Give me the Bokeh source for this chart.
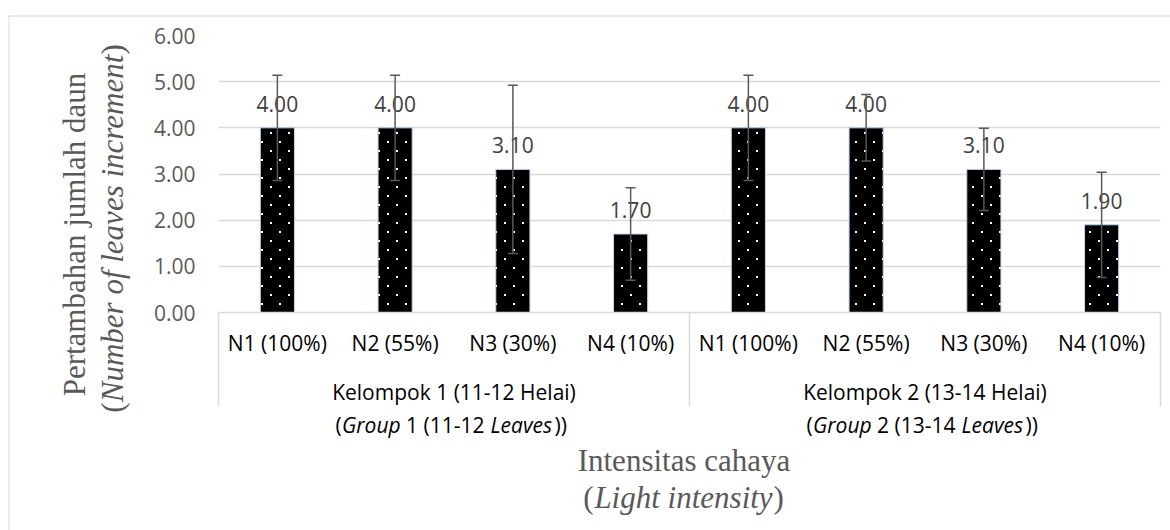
import math
import base64
from bokeh.plotting import figure
from bokeh.layouts import column, row
from bokeh.models import (Range1d, FixedTicker, NumeralTickFormatter, ColumnDataSource,
                          Whisker, TeeHead, LabelSet, LinearAxis, ImageURLTexture)
from bokeh.core.properties import value
from bokeh.embed import file_html
from bokeh.resources import INLINE

# ---------------- data ----------------
categories = ["N1 (100%)", "N2 (55%)", "N3 (30%)", "N4 (10%)"]
group_names = ["Kelompok 1 (11-12 Helai)", "Kelompok 2 (13-14 Helai)"]
group_numbers = ["1 (11-12", "2 (13-14"]
g1_values = [4.00, 4.00, 3.10, 1.70]
g2_values = [4.00, 4.00, 3.10, 1.90]
g1_errors = [1.14, 1.14, 1.82, 1.00]
g2_errors = [1.14, 0.72, 0.89, 1.14]
y_ticks = [0, 1, 2, 3, 4, 5, 6]
y_title = "Pertambahan jumlah daun"
y_title_en = "Number of leaves increment"
x_title = "Intensitas cahaya"
x_title_en = "Light intensity"

# ---------------- layout (page pixels) ----------------
W, H = 1170, 530
TOP_H = 20            # strip holding the chart border
LEFT_W = 140          # column holding the y title
SPLIT = 408           # page y where the plot figure ends
FL, FR, FT, FB = 218, 1160, 35, 313   # plot frame
N = len(categories) * len(group_names)
YMAX = max(y_ticks)

SANS = "Open Sans"
SERIF = "Liberation Serif"
FS = "21px"
TFS = "31px"
GRID = "#D9D9D9"
TC = "#595959"

values = g1_values + g2_values
errors = g1_errors + g2_errors
xs = list(range(N))
tick_labels = categories * len(group_names)
boundaries = [-0.5 + k * len(categories) for k in range(len(group_names) + 1)]
group_centers = [(boundaries[i] + boundaries[i + 1]) / 2 for i in range(len(group_names))]

src = ColumnDataSource(dict(
    x=xs,
    top=values,
    upper=[v + e for v, e in zip(values, errors)],
    lower=[v - e for v, e in zip(values, errors)],
    label=[f"{v:.2f}" for v in values],
))

# ---------------- main plot ----------------
MW, MH = W - LEFT_W, SPLIT - TOP_H
p = figure(width=MW, height=MH, x_range=Range1d(-0.5, N - 0.5), y_range=Range1d(0, YMAX),
           output_backend="svg", toolbar_location=None,
           min_border_left=FL - LEFT_W, min_border_right=W - FR,
           min_border_top=FT - TOP_H, min_border_bottom=SPLIT - FB,
           background_fill_color="white", border_fill_color="white")
p.outline_line_color = None
p.xgrid.visible = False
p.ygrid.ticker = FixedTicker(ticks=y_ticks)
p.ygrid.grid_line_color = GRID
p.ygrid.grid_line_width = 1.5

ya = p.yaxis[0]
ya.ticker = FixedTicker(ticks=y_ticks)
ya.formatter = NumeralTickFormatter(format="0.00")
ya.axis_line_color = None
ya.major_tick_line_color = None
ya.minor_tick_line_color = None
ya.major_tick_out = 0
ya.minor_tick_out = 0
ya.major_label_standoff = 23
ya.major_label_text_font = SANS
ya.major_label_text_font_size = FS
ya.major_label_text_color = TC

SEP_LEN = 94   # category separators drawn as long minor ticks
xa = p.xaxis[0]
xa.ticker = FixedTicker(ticks=xs, minor_ticks=boundaries)
xa.major_label_overrides = {x: lab for x, lab in zip(xs, tick_labels)}
xa.axis_line_color = GRID
xa.axis_line_width = 1.5
xa.major_tick_line_color = None
xa.major_tick_out = 0
xa.major_tick_in = 0
xa.minor_tick_line_color = GRID
xa.minor_tick_line_width = 1.5
xa.minor_tick_in = 0
xa.minor_tick_out = SEP_LEN
xa.major_label_standoff = 16 - SEP_LEN
xa.major_label_text_font = SANS
xa.major_label_text_font_size = FS
xa.major_label_text_color = "#000000"

# second category level (group names) as its own axis
ga = LinearAxis(ticker=FixedTicker(ticks=group_centers),
                major_label_overrides={c: g for c, g in zip(group_centers, group_names)},
                axis_line_color=None, major_tick_line_color=None, minor_tick_line_color=None,
                major_tick_out=0, major_tick_in=0, minor_tick_out=0, minor_tick_in=0,
                major_label_standoff=18, major_label_text_font=SANS,
                major_label_text_font_size=FS, major_label_text_color="#000000")
p.add_layout(ga, "below")

tile = ("<svg xmlns='http://www.w3.org/2000/svg' width='18' height='18'>"
        "<rect x='4' y='4' width='2' height='2' fill='white'/>"
        "<rect x='13' y='13' width='2' height='2' fill='white'/></svg>")
dots = ImageURLTexture(url="data:image/svg+xml;base64," + base64.b64encode(tile.encode()).decode(),
                       repetition="repeat")

p.vbar(x="x", top="top", bottom=0, width=0.29, source=src,
       fill_color="black", line_color="#BDD7EE", line_width=1,
       hatch_pattern="@", hatch_extra={"@": dots}, hatch_color="white")

p.add_layout(LabelSet(x="x", y="top", text="label", source=src, y_offset=16,
                      text_align="center", text_baseline="alphabetic",
                      text_font=value(SANS), text_font_size=value(FS),
                      text_color=value("#404040")))

p.add_layout(Whisker(source=src, base="x", upper="upper", lower="lower",
                     line_color="#595959", line_width=1.5, level="overlay",
                     upper_head=TeeHead(size=10, line_color="#595959", line_width=1.5),
                     lower_head=TeeHead(size=10, line_color="#595959", line_width=1.5)))

# ---------------- helper canvases for text outside the plot ----------------
def canvas(w, h, **kw):
    f = figure(width=w, height=h, y_range=Range1d(0, h),
               x_axis_location=None, y_axis_location=None,
               output_backend="svg", toolbar_location=None,
               background_fill_color="white", border_fill_color="white", **kw)
    f.outline_line_color = None
    f.grid.visible = False
    return f

# top strip and left column: frame covers the whole canvas, units are pixels
top = canvas(W, TOP_H, x_range=Range1d(0, W), min_border=0)
left = canvas(LEFT_W, H - TOP_H, x_range=Range1d(0, LEFT_W), min_border=0)
# bottom strip: shares the plot's x scale (its frame lines up with the plot frame)
BH = H - SPLIT
bottom = canvas(MW, BH, x_range=p.x_range, min_border=0,
                min_border_left=FL - LEFT_W, min_border_right=W - FR)

def seg(f, y0, x0a, y0a, x1a, y1a, width=1.0):
    hh = f.height
    f.segment(x0=[x0a], y0=[hh - (y0a - y0)], x1=[x1a], y1=[hh - (y1a - y0)],
              line_color=GRID, line_width=width)

def txt(f, y0, x, py, text, font, size, color, style="normal", align="center",
        angle=0.0, dx=0.0):
    hh = f.height
    s = ColumnDataSource(dict(x=[x], y=[hh - (py - y0)], t=[text]))
    f.add_layout(LabelSet(x="x", y="y", text="t", source=s, angle=angle, x_offset=dx,
                          text_font=value(font), text_font_size=value(size),
                          text_font_style=value(style), text_align=value(align),
                          text_baseline=value("alphabetic"), text_color=value(color)))

# chart border (top and left edges)
seg(top, 0, 8, 15.5, W + 10, 15.5)
seg(top, 0, 8.5, 15, 8.5, TOP_H + 5)
seg(left, TOP_H, 8.5, TOP_H - 5, 8.5, H + 5)

# y title (rotated), pixel coordinates
A = math.pi / 2
txt(left, TOP_H, 84, 234, y_title, SERIF, TFS, TC, angle=A)
txt(left, TOP_H, 122, 228, y_title_en, SERIF, TFS, TC, style="italic", angle=A)
txt(left, TOP_H, 122, 402, "(", SERIF, TFS, TC, align="right", angle=A)
txt(left, TOP_H, 122, 54, ")", SERIF, TFS, TC, align="left", angle=A)

# second line of the group labels (mixed styles), x in data units + pixel offsets
seg_offsets = [-118.5, -112, -48, 36.5, 100.5]
for gi, gc in enumerate(group_centers):
    segs = [("(", "normal"), ("Group", "italic"), (group_numbers[gi], "normal"),
            ("Leaves", "italic"), ("))", "normal")]
    for (t, st), off in zip(segs, seg_offsets):
        txt(bottom, SPLIT, gc, 432, t, SANS, FS, "#000000", style=st, align="left", dx=off)

# x title, centred on the plot frame
mid = (boundaries[0] + boundaries[-1]) / 2
txt(bottom, SPLIT, mid, 470, x_title, SERIF, TFS, TC, dx=-5.5)
txt(bottom, SPLIT, mid, 507, x_title_en, SERIF, TFS, TC, style="italic", dx=-6)
txt(bottom, SPLIT, mid, 507, "(", SERIF, TFS, TC, align="right", dx=-96)
txt(bottom, SPLIT, mid, 507, ")", SERIF, TFS, TC, align="left", dx=84)

layout = column(top, row(left, column(p, bottom, spacing=0), spacing=0), spacing=0)
open("out.html", "w").write(file_html(layout, INLINE))
